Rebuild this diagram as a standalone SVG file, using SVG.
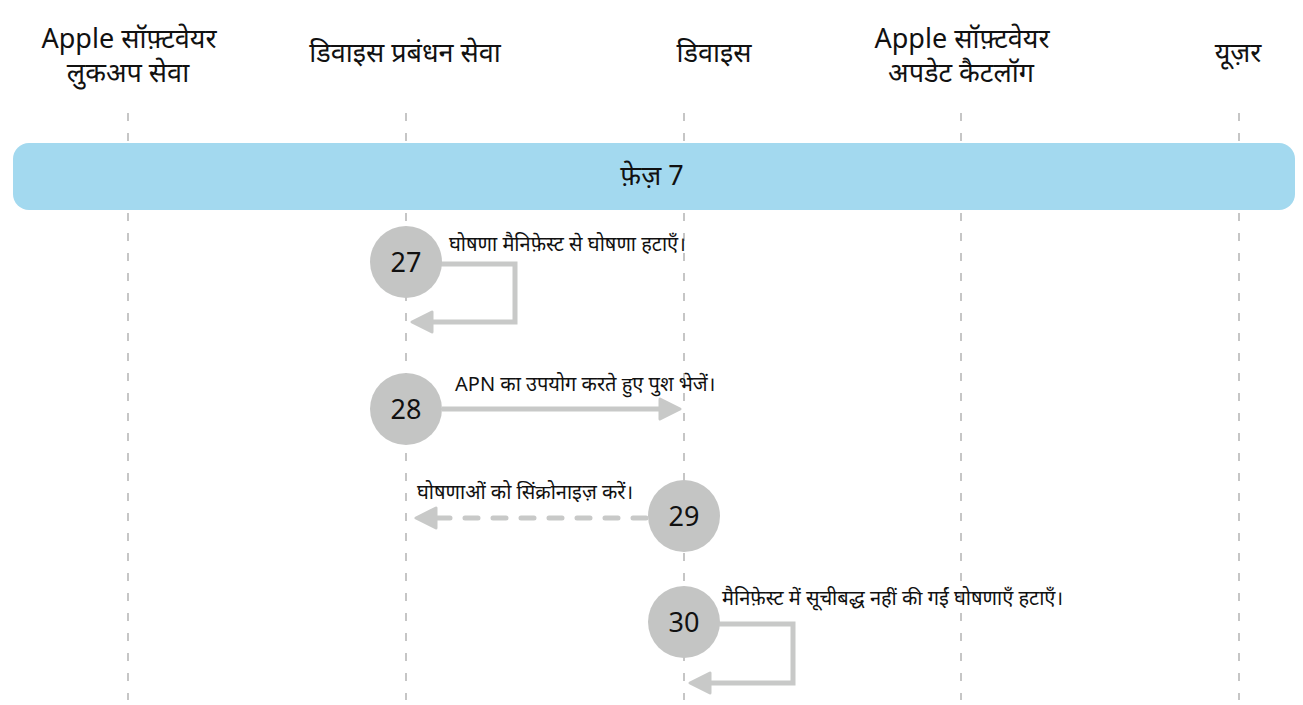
<svg xmlns="http://www.w3.org/2000/svg" width="1303" height="705" viewBox="0 0 1303 705">
<style>
.hdr{font-family:"Noto Sans","Noto Sans Devanagari","Liberation Sans",sans-serif;font-size:27px;fill:#111;text-anchor:middle}
.lbl{font-family:"Noto Sans","Noto Sans Devanagari","Liberation Sans",sans-serif;font-size:20px;fill:#111}
.num{font-family:"Noto Sans","Liberation Sans",sans-serif;font-size:27px;fill:#111;text-anchor:middle}
.life{stroke:#a8a8a8;stroke-width:1.3;stroke-dasharray:8 12;fill:none}
.step{fill:#c4c5c4}
.arr{stroke:#c8c9c8;stroke-width:5;fill:none;stroke-linejoin:miter}
.dash{stroke-dasharray:13 15;stroke-linecap:round}
</style>
<defs>
<marker id="ah" markerUnits="userSpaceOnUse" markerWidth="28" markerHeight="28" viewBox="-3 -14 28 28" refX="0" refY="0" orient="auto">
<path d="M0,-10 L20,0 L0,10 Z" fill="#c8c9c8" stroke="#c8c9c8" stroke-width="3" stroke-linejoin="round"/>
</marker>
</defs>
<rect width="1303" height="705" fill="#fff"/>
<g id="lifelines">
<line class="life" x1="128" y1="113" x2="128" y2="700"/>
<line class="life" x1="406" y1="113" x2="406" y2="700"/>
<line class="life" x1="684" y1="113" x2="684" y2="700"/>
<line class="life" x1="961" y1="113" x2="961" y2="700"/>
<line class="life" x1="1239" y1="113" x2="1239" y2="700"/>
</g>
<g id="headers">
<g id="h1"><text class="hdr" x="129" y="48">Apple सॉफ़्टवेयर</text><text class="hdr" x="128" y="82">लुकअप सेवा</text></g>
<g id="h2"><text class="hdr" x="405" y="62">डिवाइस प्रबंधन सेवा</text></g>
<g id="h3"><text class="hdr" x="714" y="62">डिवाइस</text></g>
<g id="h4"><text class="hdr" x="962" y="48">Apple सॉफ़्टवेयर</text><text class="hdr" x="961" y="82">अपडेट कैटलॉग</text></g>
<g id="h5"><text class="hdr" x="1238" y="62">यूज़र</text></g>
</g>
<g id="phase">
<rect x="13" y="143" width="1282" height="67" rx="16" fill="#a3d9ef"/>
<text class="hdr" x="652" y="185">फ़ेज़ 7</text>
</g>
<g id="connectors">
<path class="arr" d="M440,264 H515 V322 H432" marker-end="url(#ah)"/>
<path class="arr" d="M442,409 H660" marker-end="url(#ah)"/>
<path class="arr dash" d="M646,518 H436" marker-end="url(#ah)"/>
<path class="arr" d="M718,624 H793 V683 H710" marker-end="url(#ah)"/>
</g>
<g id="s27"><circle class="step" cx="406" cy="262" r="36"/><text class="num" x="406" y="272">27</text><text class="lbl" x="449" y="251">घोषणा मैनिफ़ेस्ट से घोषणा हटाएँ।</text></g>
<g id="s28"><circle class="step" cx="406" cy="409" r="36"/><text class="num" x="406" y="419">28</text><text class="lbl" x="455" y="391">APN का उपयोग करते हुए पुश भेजें।</text></g>
<g id="s29"><circle class="step" cx="684" cy="516" r="36"/><text class="num" x="684" y="526">29</text><text class="lbl" x="417" y="499">घोषणाओं को सिंक्रोनाइज़ करें।</text></g>
<g id="s30"><circle class="step" cx="684" cy="622" r="36"/><text class="num" x="684" y="632">30</text><text class="lbl" x="722" y="605">मैनिफ़ेस्ट में सूचीबद्ध नहीं की गईं घोषणाएँ हटाएँ।</text></g>
</svg>
